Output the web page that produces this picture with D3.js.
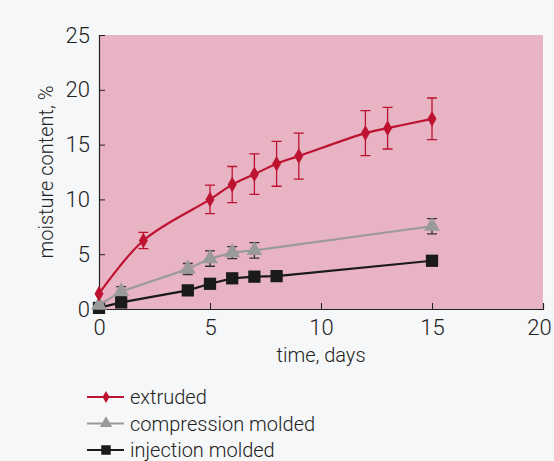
<!DOCTYPE html>
<html>
<head>
<meta charset="utf-8">
<script src="https://cdn.jsdelivr.net/npm/d3@7"></script>
<style>
  body { margin: 0; background: #f6f7f8; }
  svg { display: block; }
  text { font-family: "Roboto", "Liberation Sans", sans-serif; font-weight: 300; fill: #222; }
</style>
</head>
<body>
<div id="svg-container"></div>
<script>
////////////////////////////  Data  ////////////////////////////////
const extrudedDays = [0, 2, 5, 6, 7, 8, 9, 12, 13, 15];
const extrudedValues = [1.4, 6.25, 10.0, 11.35, 12.3, 13.25, 13.95, 16.05, 16.5, 17.35];
const extrudedErr = [0, 0.75, 1.3, 1.65, 1.85, 2.05, 2.1, 2.05, 1.9, 1.9];

const compressionDays = [0, 1, 4, 5, 6, 7, 15];
const compressionValues = [0.35, 1.6, 3.65, 4.6, 5.15, 5.35, 7.55];
const compressionErr = [0, 0.45, 0.5, 0.7, 0.55, 0.7, 0.7];

const injectionDays = [0, 1, 4, 5, 6, 7, 8, 15];
const injectionValues = [0.1, 0.6, 1.7, 2.3, 2.8, 2.95, 3.0, 4.4];

const xTicks = [0, 5, 10, 15, 20];
const yTicks = [0, 5, 10, 15, 20, 25];
const seriesNames = ["extruded", "compression molded", "injection molded"];

////////////////////////////  Init  ////////////////////////////////
const width = 554, height = 461;
const margin = { top: 35, right: 11, bottom: 152, left: 99 };

const svg = d3.select("#svg-container").append("svg")
  .attr("width", width).attr("height", height);

const xScale = d3.scaleLinear().domain([0, 20]).range([margin.left, width - margin.right]);
const yScale = d3.scaleLinear().domain([0, 25]).range([height - margin.bottom, margin.top]);

// pink plot area
svg.append("rect")
  .attr("x", xScale(0)).attr("y", yScale(25))
  .attr("width", xScale(20) - xScale(0))
  .attr("height", yScale(0) - yScale(25))
  .attr("fill", "#e8b3c3");

// axes (ticks inside)
const xAxis = d3.axisBottom(xScale).tickValues(xTicks).tickSize(-6).tickPadding(10);
const yAxis = d3.axisLeft(yScale).tickValues(yTicks).tickSize(-6).tickPadding(9);

const gx = svg.append("g")
  .attr("transform", `translate(0,${yScale(0)})`)
  .call(xAxis);
const gy = svg.append("g")
  .attr("transform", `translate(${xScale(0)},0)`)
  .call(yAxis);

[gx, gy].forEach((g) => {
  g.select(".domain").attr("stroke", "#222").attr("stroke-width", 1.2);
  g.selectAll(".tick line").attr("stroke", "#222");
  g.selectAll(".tick text").style("font-size", "22px").attr("fill", "#222")
    .style("font-family", "Roboto, sans-serif").style("font-weight", 300);
});
// last x label sits a bit left of its tick, as in the print
gx.selectAll(".tick text").filter((d) => d === 20).attr("dx", -4);

// axis titles
svg.append("text")
  .attr("x", (xScale(0) + xScale(20)) / 2)
  .attr("y", 362)
  .attr("text-anchor", "middle")
  .style("font-size", "20px")
  .text("time, days");

svg.append("text")
  .attr("transform", `translate(53,${(yScale(0) + yScale(25)) / 2}) rotate(-90)`)
  .attr("text-anchor", "middle")
  .style("font-size", "20px")
  .text("moisture content, %");

////////////////////////////  Series  //////////////////////////////
const zip = (xs, ys, es) => xs.map((x, i) => ({ x: x, y: ys[i], e: es ? es[i] : 0 }));

const series = [
  { data: zip(extrudedDays, extrudedValues, extrudedErr), color: "#bd1230", shape: d3.symbolDiamond, size: 70, curve: d3.curveCatmullRom.alpha(0.5), errColor: "#bd1230" },
  { data: zip(compressionDays, compressionValues, compressionErr), color: "#9a9a9a", shape: d3.symbolTriangle, size: 110, curve: d3.curveLinear, errColor: "#333" },
  { data: zip(injectionDays, injectionValues), color: "#1a1a1a", shape: d3.symbolSquare, size: 150, curve: d3.curveLinear, errColor: "#1a1a1a" }
];

// draw back to front: injection first
series.slice().reverse().forEach((s) => {
  const g = svg.append("g");

  const line = d3.line()
    .x((d) => xScale(d.x))
    .y((d) => yScale(d.y))
    .curve(s.curve);

  g.append("path")
    .datum(s.data)
    .attr("fill", "none")
    .attr("stroke", s.color)
    .attr("stroke-width", 2.2)
    .attr("d", line);

  const errs = s.data.filter((d) => d.e > 0);
  g.selectAll(".err")
    .data(errs)
    .enter()
    .append("path")
    .attr("fill", "none")
    .attr("stroke", s.errColor)
    .attr("stroke-width", 1.3)
    .attr("d", (d) => {
      const x = xScale(d.x), y0 = yScale(d.y - d.e), y1 = yScale(d.y + d.e);
      return `M${x},${y0}V${y1}M${x - 5},${y0}H${x + 5}M${x - 5},${y1}H${x + 5}`;
    });

  g.selectAll(".pt")
    .data(s.data)
    .enter()
    .append("path")
    .attr("transform", (d) => `translate(${xScale(d.x)},${yScale(d.y)})`)
    .attr("d", d3.symbol().type(s.shape).size(s.size))
    .attr("fill", s.color);
});

////////////////////////////  Legend  //////////////////////////////
const legend = svg.append("g").attr("transform", "translate(87,397)");
series.forEach((s, i) => {
  const row = legend.append("g").attr("transform", `translate(0,${i * 26.5})`);
  row.append("line")
    .attr("x1", 0).attr("x2", 37)
    .attr("stroke", s.color).attr("stroke-width", 2.2);
  row.append("path")
    .attr("transform", "translate(19,0)")
    .attr("d", d3.symbol().type(s.shape).size(s.size * 0.6))
    .attr("fill", s.color);
  row.append("text")
    .attr("x", 43).attr("y", 7)
    .style("font-size", "20px")
    .text(seriesNames[i]);
});
</script>
</body>
</html>
